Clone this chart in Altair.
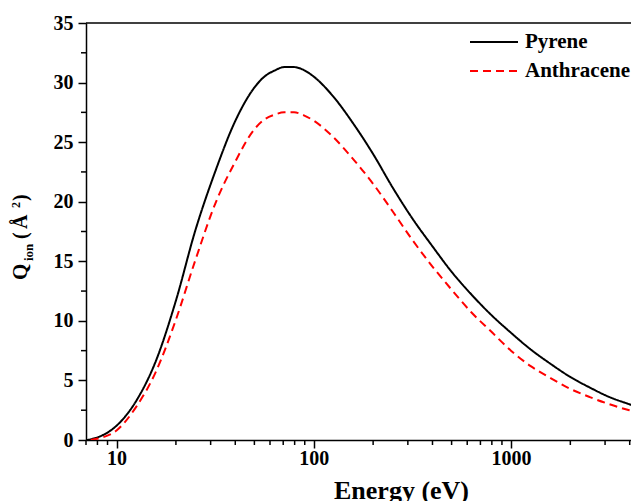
import altair as alt
import pandas as pd

FONT = "Liberation Serif"

series_names = ["Pyrene", "Anthracene"]
series_colors = ["#000000", "#ff0000"]

energy_pyrene = [7.08, 7.94, 10.0, 12.6, 15.8, 20.0, 25.1, 31.6, 39.8, 50.1, 56.2, 63.1,
                 70.8, 79.4, 89.1, 100, 126, 158, 200, 251, 316, 398, 501, 631, 794, 1000,
                 1259, 1585, 1995, 2512, 3162, 3981, 4470]
q_pyrene = [0.0, 0.2, 1.2, 3.3, 6.6, 11.7, 17.6, 22.5, 26.7, 29.6, 30.5, 31.0,
            31.3, 31.3, 31.05, 30.5, 28.8, 26.6, 24.0, 21.2, 18.6, 16.3, 14.1, 12.2, 10.5, 9.0,
            7.6, 6.4, 5.3, 4.4, 3.6, 3.0, 2.7]

energy_anthracene = [7.4, 7.94, 10.0, 12.6, 15.8, 20.0, 25.1, 31.6, 39.8, 50.1, 56.2,
                     63.1, 70.8, 79.4, 89.1, 100, 126, 158, 200, 251, 316, 398, 501, 631,
                     794, 1000, 1259, 1585, 1995, 2512, 3162, 3981, 4470]
q_anthracene = [0.0, 0.1, 0.8, 2.8, 5.7, 10.1, 15.1, 19.8, 23.3, 26.1, 26.9,
                27.3, 27.5, 27.5, 27.25, 26.8, 25.4, 23.6, 21.5, 19.2, 16.8, 14.6, 12.6, 10.7,
                9.1, 7.5, 6.2, 5.2, 4.3, 3.6, 3.0, 2.5, 2.3]

x_major = [10, 100, 1000]
x_minor = [7, 8, 9, 20, 30, 40, 50, 60, 70, 80, 90,
           200, 300, 400, 500, 600, 700, 800, 900, 2000, 3000, 4000]
y_major = [0, 5, 10, 15, 20, 25, 30, 35]
y_minor = [2.5, 7.5, 12.5, 17.5, 22.5, 27.5, 32.5]

df = pd.concat([
    pd.DataFrame({"series": series_names[0], "energy": energy_pyrene, "q": q_pyrene}),
    pd.DataFrame({"series": series_names[1], "energy": energy_anthracene, "q": q_anthracene}),
])

W, H = 545, 417
xscale = alt.Scale(type="log", domain=[7, 4061], nice=False)
yscale = alt.Scale(domain=[0, 35], nice=False, zero=False)

x_axis = alt.Axis(
    values=x_major, format="d", title="Energy (eV)",
    titleFont=FONT, titleFontSize=26, titleFontWeight="bold", titleColor="black",
    titleX=315, titleY=58, titleAlign="center", titleBaseline="alphabetic",
    labelPadding=0)
y_axis = alt.Axis(values=y_major, title=None, labelPadding=5)

legend = alt.Legend(
    orient="none", legendX=383, legendY=4.5, title=None,
    symbolType="stroke", symbolSize=2304, symbolStrokeWidth=2,
    labelFont=FONT, labelFontSize=21, labelFontWeight="bold", labelColor="black",
    labelOffset=6, clipHeight=29, rowPadding=0, padding=0, symbolOffset=0,
)

lines = alt.Chart(df).mark_line(clip=True, strokeWidth=2, interpolate="monotone").encode(
    x=alt.X("energy:Q", scale=xscale, axis=x_axis),
    y=alt.Y("q:Q", scale=yscale, axis=y_axis),
    color=alt.Color("series:N", scale=alt.Scale(domain=series_names, range=series_colors),
                    legend=legend),
    strokeDash=alt.StrokeDash("series:N",
                              scale=alt.Scale(domain=series_names, range=[[1, 0], [8, 5]]),
                              legend=legend),
)

xminor = alt.Chart(pd.DataFrame({"energy": x_minor})).mark_rule(
    color="black", strokeWidth=1.5).encode(
    x=alt.X("energy:Q", scale=xscale, axis=x_axis),
    y=alt.value(H), y2=alt.value(H + 5),
)

yminor = alt.Chart(pd.DataFrame({"q": y_minor})).mark_rule(
    color="black", strokeWidth=1.5).encode(
    y=alt.Y("q:Q", scale=yscale, axis=y_axis),
    x=alt.value(0), x2=alt.value(-5),
)

one = alt.Data(values=[{"a": 1}])
topframe = alt.Chart(one).mark_rule(color="black", strokeWidth=1.5).encode(
    x=alt.value(0), x2=alt.value(W), y=alt.value(0))


def ytxt(s, x, y, size):
    return alt.Chart(one).mark_text(
        text=s, angle=270, align="left", baseline="alphabetic",
        font=FONT, fontSize=size, fontWeight="bold", color="black",
    ).encode(x=alt.value(x), y=alt.value(y))


ytitle = [
    ytxt("Q", -59.5, 257, 21),
    ytxt("ion", -53, 238, 13),
    ytxt("(", -59, 216, 20),
    ytxt("Å", -59, 206, 20),
    ytxt("2", -66, 185, 12),
    ytxt(")", -59, 178, 20),
]

chart = alt.layer(lines, xminor, yminor, topframe, *ytitle).properties(
    width=W, height=H,
    autosize=alt.AutoSizeParams(type="none"),
    padding={"left": 78, "top": 15, "right": 0, "bottom": 61},
).configure_view(stroke=None).configure_axis(
    grid=False, domainColor="black", domainWidth=1.5, tickColor="black", tickWidth=1.5,
    tickSize=8, labelFont=FONT, labelFontSize=20, labelFontWeight="bold", labelColor="black",
)

chart.save("out.html", embed_options={"renderer": "svg", "actions": False})
